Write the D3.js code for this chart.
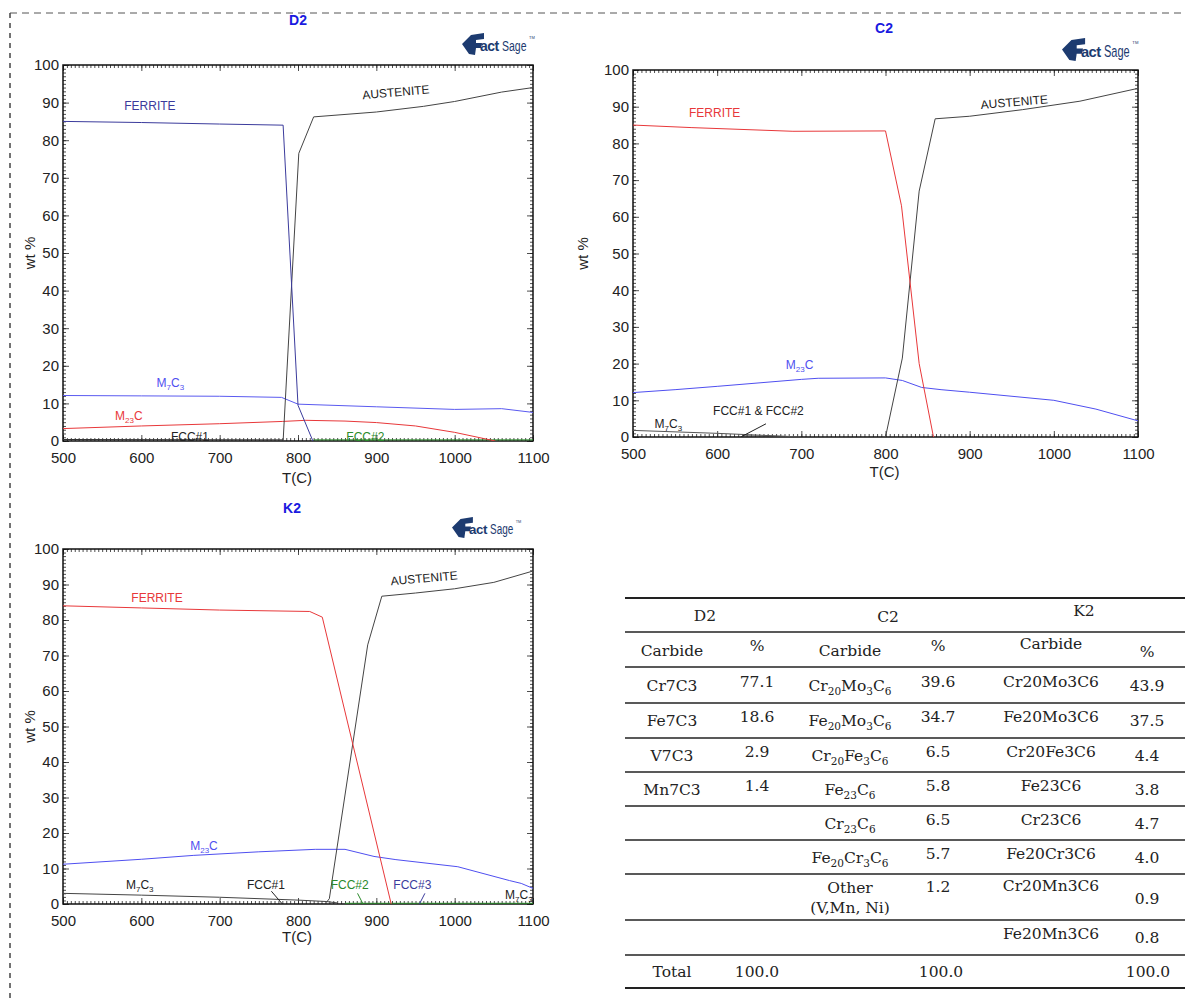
<!DOCTYPE html>
<html>
<head>
<meta charset="utf-8">
<script src="https://cdn.jsdelivr.net/npm/d3@7"></script>
<style>
  body { margin: 0; background: #fff; }
  svg { display: block; }
</style>
</head>
<body>
<script>
// ---- data ----
const xTicks = [500, 600, 700, 800, 900, 1000, 1100];
const yTicks = [0, 10, 20, 30, 40, 50, 60, 70, 80, 90, 100];

// D2 phases  [T(C), wt%]
const d2Ferrite = [[500,85],[600,84.7],[700,84.3],[781,84],[800,9.5],[819,0]];
const d2Austenite = [[781,0],[801,76.5],[820,86.2],[900,87.5],[960,89],[1000,90.3],[1060,92.8],[1100,94]];
const d2M7C3 = [[500,12.1],[600,12],[700,11.9],[779,11.6],[800,9.8],[900,9.1],[1000,8.4],[1060,8.6],[1100,7.6]];
const d2M23C = [[500,3.3],[600,4.0],[700,4.6],[780,5.2],[810,5.5],[860,5.3],[900,4.9],[950,4.0],[1000,2.3],[1052,0]];
const d2Fcc1 = [[500,0.4],[781,0.3]];
const d2Fcc2 = [[820,0.3],[1100,0.3]];

// C2 phases
const c2Ferrite = [[500,85],[570,84.3],[690,83.3],[800,83.4],[819,63],[840,20],[857,0]];
const c2Austenite = [[800,0],[820,21.5],[840,67],[859,86.7],[900,87.4],[963,89.2],[1031,91.5],[1100,95]];
const c2M23C = [[500,12.1],[550,12.9],[600,13.8],[700,15.7],[720,16],[800,16.1],[820,15.4],[843,13.5],[866,12.9],[900,12.2],[1000,10],[1050,7.6],[1100,4.4]];
const c2M7C3 = [[500,1.8],[600,1.0],[680,0.2],[700,0]];
const c2Fcc = [[630,0.3],[690,0.1]];
const c2Leader = [[628,0],[658,3.6]];

// K2 phases
const k2Ferrite = [[500,84],[600,83.4],[700,82.8],[815,82.4],[831,80.8],[919,0]];
const k2Austenite = [[836,0.4],[840,1.5],[889,73],[907,86.7],[950,87.6],[1000,88.8],[1050,90.6],[1100,93.8]];
const k2M23C = [[500,11.2],[600,12.6],[667,13.7],[750,14.7],[822,15.4],[860,15.4],[897,13.4],[925,12.5],[1004,10.5],[1070,6.6],[1085,5.8],[1100,4.4]];
const k2M7C3 = [[500,3.0],[600,2.5],[700,1.9],[800,1.1],[836,0.7],[850,0.3]];
const k2Fcc2 = [[860,0.2],[1100,0.2]];
const k2Leaders = [[[766,3.6],[780,0]], [[876,3.0],[883,0]], [[962,3.0],[955,0]]];

// phase labels: text (_n = subscript), T, wt%, colour, rotation
const d2Labels = [
  ["FERRITE", 611, 89.1, "#3b3b9c", 0],
  ["AUSTENITE", 925, 92.8, "#222", -5],
  ["M_7C_3", 637, 15.4, "#4f4ff0", 0],
  ["M_23C", 584, 6.6, "#e8383a", 0],
  ["FCC#1", 662, 1.1, "#222", 0],
  ["FCC#2", 886, 1.1, "#2a8a2a", 0]
];
const c2Labels = [
  ["FERRITE", 597, 88.3, "#e8383a", 0],
  ["AUSTENITE", 953, 91.3, "#222", -5],
  ["M_23C", 698, 19.6, "#4f4ff0", 0],
  ["M_7C_3", 542, 3.5, "#222", 0],
  ["FCC#1 & FCC#2", 649, 7.1, "#222", 0]
];
const k2Labels = [
  ["FERRITE", 620, 86.2, "#e8383a", 0],
  ["AUSTENITE", 961, 91.8, "#222", -5],
  ["M_23C", 680, 16.3, "#4f4ff0", 0],
  ["M_7C_3", 598, 5.4, "#222", 0],
  ["FCC#1", 759, 5.4, "#222", 0],
  ["FCC#2", 866, 5.4, "#2a8a2a", 0],
  ["FCC#3", 946, 5.4, "#3b3b9c", 0],
  ["M_7C_3", 1082, 2.5, "#222", 0]
];

// table
const groups = ["D2", "C2", "K2"];
const colHead = ["Carbide", "%", "Carbide", "%", "Carbide", "%"];
const d2Carbide = ["Cr7C3", "Fe7C3", "V7C3", "Mn7C3"];
const d2Pct = ["77.1", "18.6", "2.9", "1.4"];
const c2Carbide = ["Cr_20Mo_3C_6", "Fe_20Mo_3C_6", "Cr_20Fe_3C_6", "Fe_23C_6", "Cr_23C_6", "Fe_20Cr_3C_6"];
const c2Pct = ["39.6", "34.7", "6.5", "5.8", "6.5", "5.7", "1.2"];
const k2Carbide = ["Cr20Mo3C6", "Fe20Mo3C6", "Cr20Fe3C6", "Fe23C6", "Cr23C6", "Fe20Cr3C6", "Cr20Mn3C6", "Fe20Mn3C6"];
const k2Pct = ["43.9", "37.5", "4.4", "3.8", "4.7", "4.0", "0.9", "0.8"];
const totals = ["100.0", "100.0", "100.0"];

// ---- drawing ----
const svg = d3.select("body").append("svg")
  .attr("width", 1185).attr("height", 1003);

// dashed page border
svg.append("line").attr("x1", 10).attr("y1", 13).attr("x2", 1185).attr("y2", 13)
  .attr("stroke", "#555").attr("stroke-dasharray", "7,5");
svg.append("line").attr("x1", 10).attr("y1", 13).attr("x2", 10).attr("y2", 1003)
  .attr("stroke", "#444").attr("stroke-width", 1.5).attr("stroke-dasharray", "5,5");

const sans = "'Liberation Sans', Arial, sans-serif";

function addRich(sel, str, subSize, shift) {
  const parts = str.split(/_(\d+)/);
  let down = false;
  parts.forEach((p, i) => {
    if (p === "") return;
    const t = sel.append("tspan").text(p);
    if (i % 2 === 1) {
      t.attr("font-size", subSize).attr("dy", down ? 0 : shift);
      down = true;
    } else {
      if (down) t.attr("dy", -shift);
      down = false;
    }
  });
}

function drawLogo(x, y, s) {
  const g = svg.append("g").attr("transform", `translate(${x},${y}) scale(${s})`);
  g.append("path")
    .attr("d", "M0,11 L9,2 L22,0 L22,6 L14,7 L14,10 L20,10 L19,15 L14,15 L13,22 L7,21 Z")
    .attr("fill", "#1d3b70");
  g.append("text").attr("x", 18).attr("y", 18)
    .attr("font-family", sans).attr("font-weight", "bold").attr("font-size", 14)
    .attr("fill", "#1d3b70").attr("letter-spacing", -0.5).text("act");
  // condensed "Sage"
  g.append("text").attr("transform", "translate(40,18) scale(0.7,1)")
    .attr("font-family", sans).attr("font-size", 15)
    .attr("fill", "#1d3b70").text("Sage");
  g.append("text").attr("x", 67).attr("y", 6)
    .attr("font-family", sans).attr("font-size", 4).attr("fill", "#1d3b70").text("TM");
}

function drawPanel(p) {
  const x = d3.scaleLinear().domain([500, 1100]).range([p.x0, p.x1]);
  const y = d3.scaleLinear().domain([0, 100]).range([p.yB, p.yT]);
  const g = svg.append("g");

  const clipId = "clip" + p.title;
  svg.append("clipPath").attr("id", clipId).append("rect")
    .attr("x", p.x0).attr("y", p.yT).attr("width", p.x1 - p.x0).attr("height", p.yB - p.yT);

  // inward ticks on all four sides
  const minorX = d3.range(500, 1101, 5), minorY = d3.range(0, 101, 1);
  const tickAxes = [
    [d3.axisBottom(x), p.yB, 0, true], [d3.axisTop(x), p.yT, 0, true],
    [d3.axisLeft(y), 0, p.x0, false], [d3.axisRight(y), 0, p.x1, false]
  ];
  tickAxes.forEach(([ax, ty, tx, isX]) => {
    [[isX ? minorX : minorY, 3], [isX ? xTicks : yTicks, 6]].forEach(([vals, len]) => {
      g.append("g").attr("transform", `translate(${tx},${ty})`)
        .call(ax.tickValues(vals).tickSize(-len).tickFormat(""))
        .call(a => a.select(".domain").remove())
        .selectAll("line").attr("stroke", "#222").attr("stroke-width", 0.8);
    });
  });

  // tick labels
  g.append("g").attr("transform", `translate(0,${p.yB})`)
    .call(d3.axisBottom(x).tickValues(xTicks).tickSize(0).tickPadding(p.xPad).tickFormat(d3.format("d")))
    .call(a => a.select(".domain").remove())
    .selectAll("text").attr("font-family", sans).attr("font-size", 15).attr("fill", "#222");
  g.append("g").attr("transform", `translate(${p.x0},0)`)
    .call(d3.axisLeft(y).tickValues(yTicks).tickSize(0).tickPadding(4))
    .call(a => a.select(".domain").remove())
    .selectAll("text").attr("font-family", sans).attr("font-size", 15).attr("fill", "#222");

  // frame
  g.append("rect").attr("x", p.x0).attr("y", p.yT)
    .attr("width", p.x1 - p.x0).attr("height", p.yB - p.yT)
    .attr("fill", "none").attr("stroke", "#111").attr("stroke-width", 1.5);

  // phase curves
  const line = d3.line().x(d => x(d[0])).y(d => y(d[1]));
  const plot = g.append("g").attr("clip-path", `url(#${clipId})`);
  p.series.forEach(([data, color]) => {
    plot.append("path").datum(data).attr("d", line)
      .attr("fill", "none").attr("stroke", color).attr("stroke-width", 1);
  });

  // phase labels
  p.labels.forEach(([txt, T, v, color, rot]) => {
    const t = plot.append("text")
      .attr("transform", `translate(${x(T)},${y(v)}) rotate(${rot})`)
      .attr("text-anchor", "middle").attr("dy", "0.35em")
      .attr("font-family", sans).attr("font-size", 12).attr("fill", color);
    addRich(t, txt, 8, 3);
  });

  // titles
  svg.append("text").attr("x", p.titleX).attr("y", p.titleY)
    .attr("text-anchor", "middle").attr("font-family", sans).attr("font-weight", "bold")
    .attr("font-size", 14).attr("fill", "#1a1ae0").text(p.title);
  svg.append("text").attr("x", (p.x0 + p.x1) / 2 - 1).attr("y", p.yB + p.tcY)
    .attr("text-anchor", "middle").attr("font-family", sans).attr("font-size", 15)
    .attr("fill", "#222").text("T(C)");
  svg.append("text")
    .attr("transform", `translate(${p.wtX},${(p.yT + p.yB) / 2}) rotate(-90)`)
    .attr("text-anchor", "middle").attr("font-family", sans).attr("font-size", 15)
    .attr("fill", "#222").text("wt %");
  drawLogo(p.logo[0], p.logo[1], p.logo[2]);
}

drawPanel({
  title: "D2", titleX: 298, titleY: 25, x0: 63, x1: 533, yT: 65, yB: 441, xPad: 11, tcY: 42, wtX: 35,
  logo: [462, 33, 1.0],
  series: [[d2Fcc1, "#333"], [d2Fcc2, "#2a8a2a"], [d2M23C, "#e8383a"], [d2M7C3, "#5a5af0"],
           [d2Austenite, "#444"], [d2Ferrite, "#3b3b9c"]],
  labels: d2Labels
});
drawPanel({
  title: "C2", titleX: 884, titleY: 33, x0: 633, x1: 1138, yT: 70, yB: 437, xPad: 11, tcY: 40, wtX: 588,
  logo: [1062, 38, 1.05],
  series: [[c2Fcc, "#333"], [c2M7C3, "#555"], [c2Leader, "#222"], [c2M23C, "#4f4ff0"],
           [c2Austenite, "#444"], [c2Ferrite, "#e8383a"]],
  labels: c2Labels
});
drawPanel({
  title: "K2", titleX: 292, titleY: 513, x0: 63, x1: 533, yT: 549, yB: 904, xPad: 11, tcY: 38, wtX: 35,
  logo: [452, 517, 0.95],
  series: [[k2Fcc2, "#2a8a2a"], [k2M7C3, "#444"], [k2Leaders[0], "#222"], [k2Leaders[1], "#2a8a2a"],
           [k2Leaders[2], "#3b3b9c"], [k2M23C, "#4f4ff0"], [k2Austenite, "#444"], [k2Ferrite, "#e8383a"]],
  labels: k2Labels
});

// ---- table ----
const serif = "'DejaVu Serif', serif";
const cols = [672, 757, 850, 938, 1051, 1147];
const ruleY = [598, 632, 667, 703, 738, 772, 806, 840, 874, 920, 955, 988];
const tbl = svg.append("g").attr("font-family", serif).attr("font-size", 15.5)
  .attr("fill", "#222").attr("text-anchor", "middle");

tbl.selectAll("line.rule").data(ruleY).enter().append("line")
  .attr("x1", 625).attr("x2", 1185).attr("y1", d => d).attr("y2", d => d)
  .attr("stroke", "#222").attr("stroke-width", (d, i) => (i === 0 || i === ruleY.length - 1) ? 2 : 1.5);

function cell(str, cx, by) {
  const t = tbl.append("text").attr("x", cx).attr("y", by);
  addRich(t, str, 10.5, 4);
}
const mid = i => (ruleY[i] + ruleY[i + 1]) / 2;

// header rows
[[705, 621], [888, 621.5], [1084, 615.5]].forEach(([cx, by], i) => cell(groups[i], cx, by));
const headOff = [6, 1, 6, 1, -1, 7];
colHead.forEach((h, i) => cell(h, cols[i], mid(1) + headOff[i]));

// body rows
d2Carbide.forEach((s, i) => cell(s, cols[0], mid(2 + i) + 5.5));
d2Pct.forEach((s, i) => cell(s, cols[1], mid(2 + i) + 1.5));
c2Carbide.forEach((s, i) => cell(s, cols[2], mid(2 + i) + 5.5));
cell("Other", cols[2], 892.5);
cell("(V,Mn, Ni)", cols[2], 912.5);
c2Pct.forEach((s, i) => cell(s, cols[3], i < 6 ? mid(2 + i) + 1.5 : 891.5));
k2Carbide.forEach((s, i) => cell(s, cols[4], i === 6 ? 890.5 : mid(2 + i) + 1.5));
k2Pct.forEach((s, i) => cell(s, cols[5], i === 6 ? 903.5 : mid(2 + i) + 5.5));

// totals
cell("Total", cols[0], mid(10) + 5.5);
[757, 941, 1148].forEach((cx, i) => cell(totals[i], cx, mid(10) + 5.5));
</script>
</body>
</html>
